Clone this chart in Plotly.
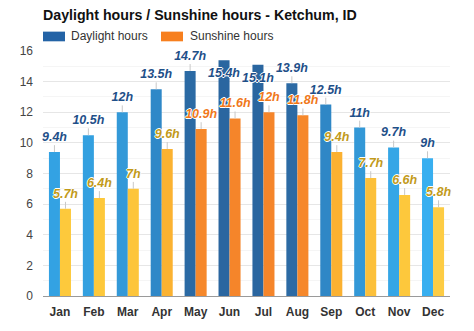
import plotly.graph_objects as go

months = ["Jan", "Feb", "Mar", "Apr", "May", "Jun", "Jul", "Aug", "Sep", "Oct", "Nov", "Dec"]
daylight = [9.4, 10.5, 12, 13.5, 14.7, 15.4, 15.1, 13.9, 12.5, 11, 9.7, 9]
sunshine = [5.7, 6.4, 7, 9.6, 10.9, 11.6, 12, 11.8, 9.4, 7.7, 6.6, 5.8]

day_colors = ["#33a2e3", "#33a0e0", "#3399d8", "#2f88c8", "#2b6aa4", "#2a66a0",
              "#2a66a0", "#2c6aa4", "#2f87c6", "#3398d7", "#35a6e6", "#38aff0"]
sun_colors = ["#fdc93c", "#fdc83a", "#fdc53a", "#fbb231", "#f6882b", "#f5852a",
              "#f5852a", "#f6882b", "#fbb131", "#fcc03a", "#fdc83c", "#fdcc44"]
sun_label_colors = ["#c29a1a" if c not in ("#f6882b", "#f5852a") else "#f0781a" for c in sun_colors]

YMAX = 16
fits = lambda v: v <= YMAX - 1.1

def fmt(v):
    return (f"{v:g}") + "h"

fig = go.Figure()
fig.add_trace(go.Bar(
    x=months, y=daylight, name="Daylight hours", offsetgroup="d",
    marker=dict(color=day_colors, line=dict(width=0)),
    error_y=dict(type="data", symmetric=False,
                 array=[0.45 if fits(v) else 0 for v in daylight],
                 arrayminus=[0] * len(daylight),
                 color="#c8c8c8", thickness=1, width=0),
    hoverinfo="skip"))
fig.add_trace(go.Bar(
    x=months, y=sunshine, name="Sunshine hours", offsetgroup="s",
    marker=dict(color=sun_colors, line=dict(width=0)),
    error_y=dict(type="data", symmetric=False,
                 array=[0.45 if fits(v) else 0 for v in sunshine],
                 arrayminus=[0] * len(sunshine),
                 color="#c8c8c8", thickness=1, width=0),
    hoverinfo="skip"))

halo = "1px 0px 0px white, -1px 0px 0px white, 0px 1px 0px white, 0px -1px 0px white"

fig.add_trace(go.Scatter(
    x=months, y=daylight, offsetgroup="d", mode="markers+text",
    text=[fmt(v) for v in daylight],
    textposition=["top center" if fits(v) else "bottom center" for v in daylight],
    marker=dict(size=11, opacity=0),
    textfont=dict(family="Arial, Liberation Sans, sans-serif", size=12.5,
                  color="#1f5089", weight="bold", style="italic",
                  shadow=halo),
    cliponaxis=False, hoverinfo="skip", showlegend=False))
fig.add_trace(go.Scatter(
    x=months, y=sunshine, offsetgroup="s", mode="markers+text",
    text=[fmt(v) for v in sunshine],
    textposition=["top center" if fits(v) else "bottom center" for v in sunshine],
    marker=dict(size=11, opacity=0),
    textfont=dict(family="Arial, Liberation Sans, sans-serif", size=12.5,
                  color=sun_label_colors, weight="bold", style="italic",
                  shadow=halo),
    cliponaxis=False, hoverinfo="skip", showlegend=False))

W, H = 474, 331
L, R, T, B = 43, 24, 51, 27
pw, ph = W - L - R, H - T - B

def px(x):
    return (x - L) / pw

def py(y):
    return (H - B - y) / ph

legend_items = [("Daylight hours", "#2363a6", 43, 69), ("Sunshine hours", "#f77f1e", 161, 188)]
shapes = []
annotations = []
for label, col, rx, tx in legend_items:
    shapes.append(dict(type="rect", xref="paper", yref="paper",
                       x0=px(rx), x1=px(rx + 22), y0=py(41), y1=py(31),
                       fillcolor=col, line=dict(width=0)))
    annotations.append(dict(xref="paper", yref="paper", x=px(tx), y=py(36),
                            xanchor="left", yanchor="middle", showarrow=False,
                            text=label, font=dict(family="Arial, Liberation Sans, sans-serif",
                                                  size=12, color="#333333")))

fig.update_layout(
    width=W, height=H,
    margin=dict(l=L, r=R, t=T, b=B),
    paper_bgcolor="white", plot_bgcolor="white",
    barmode="group", bargap=0.35, bargroupgap=0,
    scattermode="group", scattergap=0.35,
    showlegend=False,
    title=dict(text="<b>Daylight hours / Sunshine hours - Ketchum, ID</b>",
               x=43 / W, xanchor="left", xref="container",
               y=1 - 15 / H, yanchor="middle",
               font=dict(family="Arial, Liberation Sans, sans-serif", size=14.2, color="#111111")),
    xaxis=dict(showgrid=False, showline=True, linecolor="#9a9a9a", linewidth=1,
               ticks="", ticklabelstandoff=5,
               tickfont=dict(family="Arial, Liberation Sans, sans-serif", size=12,
                             color="#333333", weight="bold")),
    yaxis=dict(range=[0, YMAX], dtick=2, showgrid=True, gridcolor="#e6e6e6",
               zeroline=False, showline=False, ticks="", ticklabelstandoff=9,
               minor=dict(showgrid=True, dtick=1, gridcolor="#f5f5f5"),
               tickfont=dict(family="Arial, Liberation Sans, sans-serif", size=12,
                             color="#444444")),
    shapes=shapes, annotations=annotations,
)

fig.write_html("out.html")
